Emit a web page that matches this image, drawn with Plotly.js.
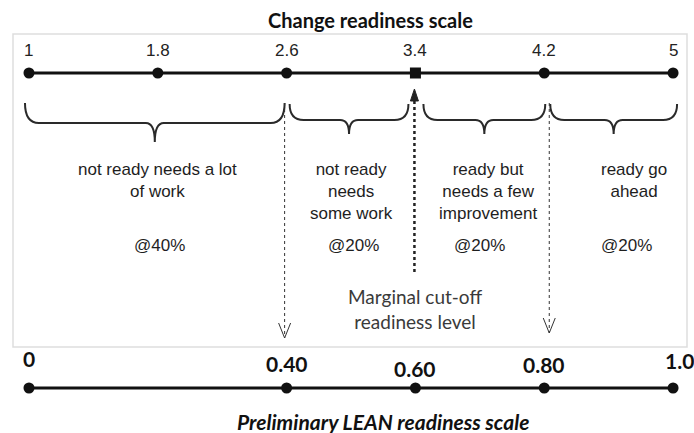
<!DOCTYPE html>
<html><head><meta charset="utf-8">
<script src="https://cdn.plot.ly/plotly-3.0.1.min.js"></script>
<style>html,body{margin:0;padding:0;background:#fff}#chart{width:694px;height:433px}</style>
</head><body><div id="chart"></div>
<script>
// ---------- data ----------
const changeScaleValues = [1, 1.8, 2.6, 3.4, 4.2, 5];
const changeScaleLabels = ['1', '1.8', '2.6', '3.4', '4.2', '5'];
const marginalCutoff = 3.4;
const leanScaleValues = [0, 0.4, 0.6, 0.8, 1.0];
const leanScaleLabels = ['0', '0.40', '0.60', '0.80', '1.0'];
const categoryBounds = [[1, 2.6], [2.6, 3.4], [3.4, 4.2], [4.2, 5]];
const categoryNames = ['not ready needs a lot<br>of work', 'not ready<br>needs<br>some work', 'ready but<br>needs a few<br>improvement', 'ready go<br>ahead'];
const categoryShares = ['@40%', '@20%', '@20%', '@20%'];
const dashedArrowValues = [2.6, 4.2];
const titleTop = 'Change readiness scale';
const titleBottom = 'Preliminary LEAN readiness scale';
const cutoffLabel = 'Marginal cut-off<br>readiness level';

// ---------- layout / style ----------
const W = 694, H = 433;
const X0 = 0.82, X1 = 5.13;                 // top-scale axis range
const PX = W / (X1 - X0);                   // pixels per top-scale unit
const TOP_Y = 73, BOT_Y = 388;
const braceInsetL = [-4, 3, 8, 6], braceInsetR = [-2, -7, 1, 4];
const braceY = [[103, 123, 142], [104, 120, 134], [104, 120, 134], [104, 120, 134]];
const nameShift = [0, 0, 9, 25], shareShift = [2, 2, 0, 18];
const dashShift = [-2, 5], dashEnd = [338, 333];
const leanLabelY = [358, 363, 368, 364, 360], leanLabelShift = [0, 0, 0, 0, 6];
const ink = '#111';
const bodyText = '#1e1e1e';

const traces = [
  {x: changeScaleValues, y: changeScaleValues.map(() => TOP_Y), xaxis: 'x', yaxis: 'y',
   mode: 'lines+markers', line: {color: ink, width: 3},
   marker: {size: 11, color: ink, symbol: changeScaleValues.map(v => v === marginalCutoff ? 'square' : 'circle')},
   hoverinfo: 'skip', showlegend: false},
  {x: leanScaleValues, y: leanScaleValues.map(() => BOT_Y), xaxis: 'x2', yaxis: 'y',
   mode: 'lines+markers', line: {color: ink, width: 3},
   marker: {size: 11, color: ink, symbol: 'circle'}, hoverinfo: 'skip', showlegend: false}
];

const shapes = [];
shapes.push({type: 'rect', xref: 'paper', yref: 'y', x0: 13 / W, x1: 687 / W, y0: 34, y1: 347,
  line: {color: '#dedede', width: 1.5}, layer: 'below'});

function bracePath(a, b, yT, yM, yB) {
  const r = 14 / PX, rt = 9 / PX, m = (a + b) / 2;
  return `M ${a},${yT} Q ${a},${yM} ${a + r},${yM} L ${m - rt},${yM} Q ${m},${yM} ${m},${yB} ` +
         `Q ${m},${yM} ${m + rt},${yM} L ${b - r},${yM} Q ${b},${yM} ${b},${yT}`;
}
categoryBounds.forEach((bd, i) => {
  const a = bd[0] + braceInsetL[i] / PX, b = bd[1] + braceInsetR[i] / PX;
  const [yT, yM, yB] = braceY[i];
  shapes.push({type: 'path', xref: 'x', yref: 'y', path: bracePath(a, b, yT, yM, yB),
    line: {color: '#2a2a2a', width: 2}});
});

dashedArrowValues.forEach((v, i) => {
  const s = dashShift[i], e = dashEnd[i];
  shapes.push({type: 'line', xref: 'x', yref: 'y', xsizemode: 'pixel', xanchor: v,
    x0: s, x1: s, y0: 103, y1: e, line: {color: '#333', width: 1, dash: '3px,3px'}});
  shapes.push({type: 'path', xref: 'x', yref: 'y', xsizemode: 'pixel', xanchor: v,
    path: `M ${s - 6},${e - 15} L ${s},${e} L ${s + 6},${e - 15}`, line: {color: '#333', width: 1}});
});
// dotted arrow up to the marginal cut-off
shapes.push({type: 'line', xref: 'x', yref: 'y', xsizemode: 'pixel', xanchor: marginalCutoff,
  x0: -1, x1: -1, y0: 272, y1: 98, line: {color: '#222', width: 2.5, dash: 'dot'}});
shapes.push({type: 'path', xref: 'x', yref: 'y', xsizemode: 'pixel', xanchor: marginalCutoff,
  path: 'M -5,101 L -1,89 L 3,101 Z', fillcolor: '#222', line: {color: '#222', width: 1}});

const annotations = [];
annotations.push({text: titleTop, xref: 'paper', yref: 'y', x: 370 / W, y: 20, showarrow: false,
  font: {family: 'Lato, sans-serif', size: 20, weight: 'bold', color: ink}});
changeScaleValues.forEach((v, i) => annotations.push({text: changeScaleLabels[i], xref: 'x', yref: 'y',
  x: v, y: 50, showarrow: false, font: {family: 'Liberation Sans, Arial, sans-serif', size: 17, color: '#222'}}));
leanScaleValues.forEach((v, i) => annotations.push({text: leanScaleLabels[i], xref: 'x2', yref: 'y',
  x: v, xshift: leanLabelShift[i], y: leanLabelY[i], showarrow: false,
  font: {family: 'Lato, sans-serif', size: 21, weight: 'bold', color: ink}}));
categoryBounds.forEach((bd, i) => {
  const m = (bd[0] + bd[1]) / 2;
  annotations.push({text: categoryNames[i], xref: 'x', yref: 'y', x: m, xshift: nameShift[i], y: 158,
    yanchor: 'top', showarrow: false, align: 'center',
    font: {family: 'Liberation Sans, Arial, sans-serif', size: 17, color: bodyText}});
  annotations.push({text: categoryShares[i], xref: 'x', yref: 'y', x: m, xshift: shareShift[i], y: 245,
    showarrow: false, font: {family: 'Liberation Sans, Arial, sans-serif', size: 17, color: bodyText}});
});
annotations.push({text: cutoffLabel, xref: 'x', yref: 'y', x: marginalCutoff, y: 309, showarrow: false,
  align: 'center', font: {family: 'Lato, sans-serif', size: 19, color: '#3a3a3a'}});
annotations.push({text: titleBottom, xref: 'paper', yref: 'y', x: 383 / W, y: 421, showarrow: false,
  font: {family: 'Lato, sans-serif', size: 21, weight: 'bold', style: 'italic', color: ink}});

const layout = {
  width: W, height: H, margin: {l: 0, r: 0, t: 0, b: 0},
  paper_bgcolor: '#fff', plot_bgcolor: '#fff',
  xaxis: {range: [X0, X1], visible: false, fixedrange: true},
  xaxis2: {range: [(X0 - 1) / 4, (X1 - 1) / 4], overlaying: 'x', visible: false, fixedrange: true},
  yaxis: {range: [H, 0], visible: false, fixedrange: true},
  shapes, annotations, showlegend: false
};
Plotly.newPlot('chart', traces, layout, {displayModeBar: false, staticPlot: true});
</script></body></html>
